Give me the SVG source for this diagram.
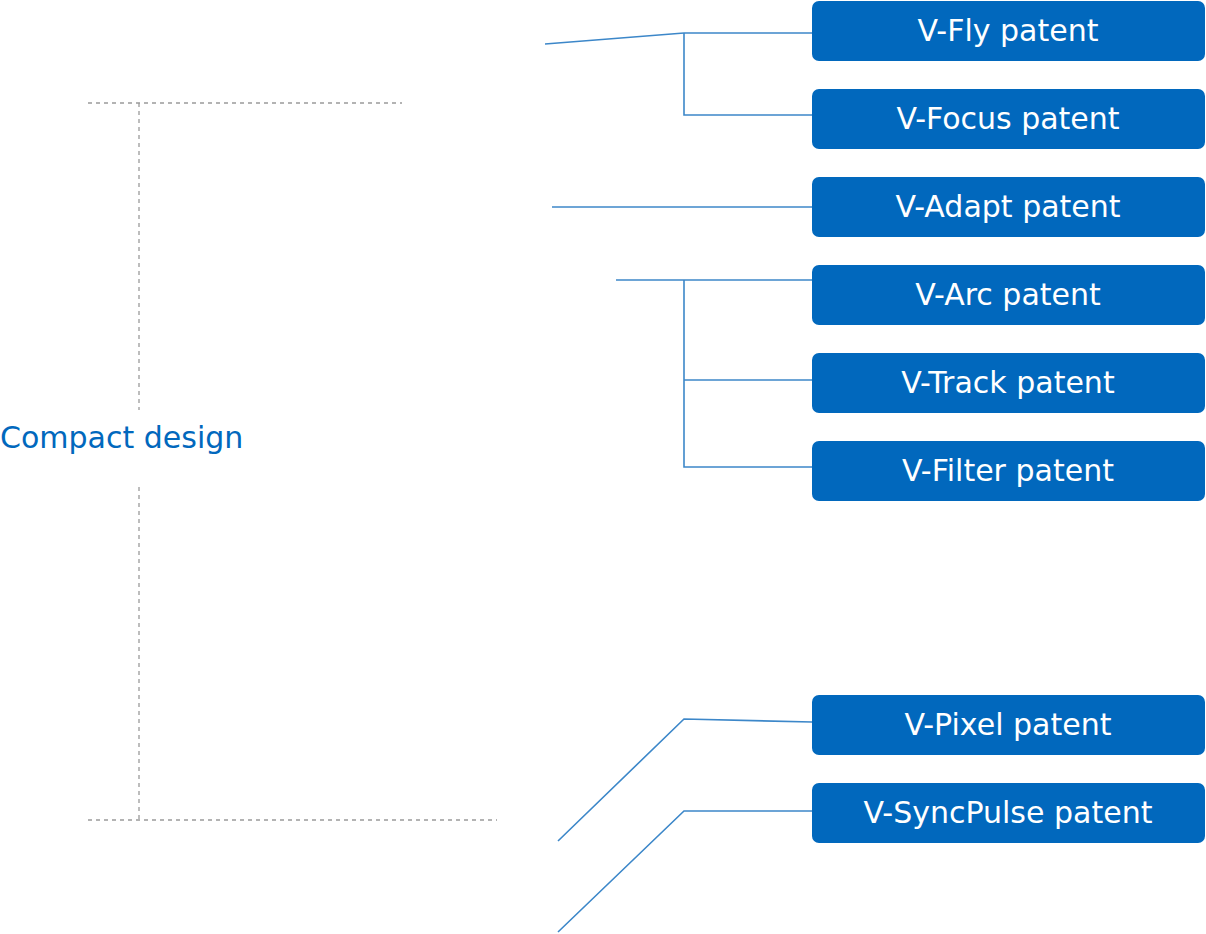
<svg xmlns="http://www.w3.org/2000/svg" width="1206" height="934" viewBox="0 0 1206 934">
<style>
.box{fill:#0168bd}
.lbl{fill:#fff;font-family:"DejaVu Sans","Liberation Sans",sans-serif;font-size:30px;text-anchor:middle}
.con{fill:none;stroke:#3c87c9;stroke-width:1.6}
.dash{fill:none;stroke:#9a9a9a;stroke-width:1.3;stroke-dasharray:4 4}
.title{fill:#0168bd;font-family:"DejaVu Sans","Liberation Sans",sans-serif;font-size:30px}
</style>
<g id="guides">
<line class="dash" x1="88" y1="103" x2="402" y2="103"/>
<line class="dash" x1="139" y1="103" x2="139" y2="410"/>
<line class="dash" x1="139" y1="487" x2="139" y2="820"/>
<line class="dash" x1="88" y1="820" x2="497" y2="820"/>
</g>
<g id="title"><text class="title" x="0" y="448">Compact design</text></g>
<g id="connectors">
<polyline class="con" points="545,44 684,33 812,33"/>
<polyline class="con" points="684,33 684,115 812,115"/>
<line class="con" x1="552" y1="207" x2="812" y2="207"/>
<line class="con" x1="616" y1="280" x2="812" y2="280"/>
<polyline class="con" points="684,280 684,467 812,467"/>
<line class="con" x1="684" y1="380" x2="812" y2="380"/>
<polyline class="con" points="558,841 684,719 812,722"/>
<polyline class="con" points="558,932 684,811 812,811"/>
</g>
<g id="n1"><rect class="box" x="812" y="1" width="393" height="60" rx="7"/><text class="lbl" x="1008" y="41">V-Fly patent</text></g>
<g id="n2"><rect class="box" x="812" y="89" width="393" height="60" rx="7"/><text class="lbl" x="1008" y="129">V-Focus patent</text></g>
<g id="n3"><rect class="box" x="812" y="177" width="393" height="60" rx="7"/><text class="lbl" x="1008" y="217">V-Adapt patent</text></g>
<g id="n4"><rect class="box" x="812" y="265" width="393" height="60" rx="7"/><text class="lbl" x="1008" y="305">V-Arc patent</text></g>
<g id="n5"><rect class="box" x="812" y="353" width="393" height="60" rx="7"/><text class="lbl" x="1008" y="393">V-Track patent</text></g>
<g id="n6"><rect class="box" x="812" y="441" width="393" height="60" rx="7"/><text class="lbl" x="1008" y="481">V-Filter patent</text></g>
<g id="n7"><rect class="box" x="812" y="695" width="393" height="60" rx="7"/><text class="lbl" x="1008" y="735">V-Pixel patent</text></g>
<g id="n8"><rect class="box" x="812" y="783" width="393" height="60" rx="7"/><text class="lbl" x="1008" y="823">V-SyncPulse patent</text></g>
</svg>
